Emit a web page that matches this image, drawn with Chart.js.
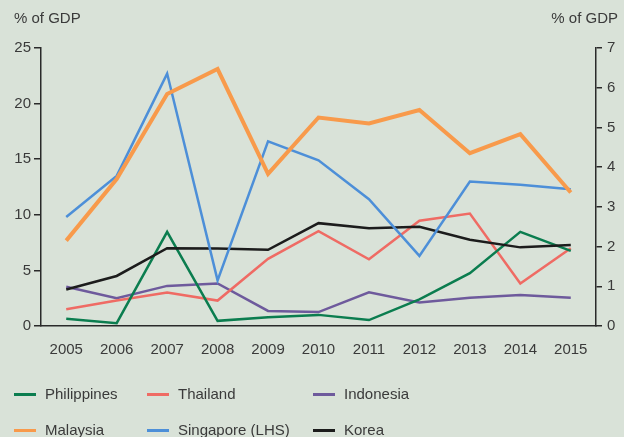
<!DOCTYPE html>
<html>
<head>
<meta charset="utf-8">
<script src="https://cdn.jsdelivr.net/npm/chart.js@4/dist/chart.umd.min.js"></script>
<style>
  html, body { margin: 0; padding: 0; background: #d9e2d8; }
  #wrap { position: relative; width: 624px; height: 437px; overflow: hidden; background: #d9e2d8; font-family: "Liberation Sans", Arial, sans-serif; color: #3a3a3a; }
  canvas { position: absolute; left: 0; top: 0; }
  .atitle { position: absolute; top: 9px; font-size: 15px; line-height: 18px; }
  .leg { position: absolute; font-size: 15px; line-height: 18px; white-space: nowrap; }
  .leg span.m { position: absolute; left: 0; top: 8px; width: 22px; height: 3px; }
  .leg span.t { position: absolute; left: 31px; top: 0; }
</style>
</head>
<body>
<div id="wrap">
  <canvas id="c" width="624" height="437"></canvas>
  <div class="atitle" style="left:14px">% of GDP</div>
  <div class="atitle" style="right:6px">% of GDP</div>
  <div id="legend"></div>
</div>
<script>
const years = ["2005","2006","2007","2008","2009","2010","2011","2012","2013","2014","2015"];
const leftTicks = [0, 5, 10, 15, 20, 25];
const rightTicks = [0, 1, 2, 3, 4, 5, 6, 7];

const philippines = [0.18, 0.07, 2.37, 0.13, 0.22, 0.28, 0.15, 0.67, 1.33, 2.37, 1.89];
const thailand    = [0.42, 0.64, 0.84, 0.64, 1.69, 2.39, 1.68, 2.65, 2.83, 1.07, 1.96];
const indonesia   = [0.99, 0.70, 1.01, 1.07, 0.38, 0.35, 0.85, 0.59, 0.71, 0.78, 0.71];
const malaysia    = [2.15, 3.70, 5.84, 6.47, 3.83, 5.25, 5.10, 5.44, 4.35, 4.83, 3.36];
const singapore   = [9.8, 13.5, 22.7, 4.1, 16.6, 14.9, 11.4, 6.3, 13.0, 12.7, 12.3];
const korea       = [0.92, 1.26, 1.96, 1.95, 1.92, 2.59, 2.46, 2.50, 2.17, 1.98, 2.04];

const series = [
  {label: "Philippines", data: philippines, color: "#0b7d4f", axis: "y1", width: 2.5, order: 3},
  {label: "Thailand", data: thailand, color: "#ef6b64", axis: "y1", width: 2.5, order: 4},
  {label: "Indonesia", data: indonesia, color: "#6e5a9c", axis: "y1", width: 2.5, order: 5},
  {label: "Malaysia", data: malaysia, color: "#f89a4b", axis: "y1", width: 4, order: 0},
  {label: "Singapore (LHS)", data: singapore, color: "#4d8fd8", axis: "y", width: 2.5, order: 1},
  {label: "Korea", data: korea, color: "#1c1c1c", axis: "y1", width: 2.5, order: 2}
];

const legendPos = [
  [14, 385], [147, 385], [313, 385],
  [14, 421], [147, 421], [313, 421]
];
const legEl = document.getElementById("legend");
series.forEach((s, i) => {
  const d = document.createElement("div");
  d.className = "leg";
  d.style.left = legendPos[i][0] + "px";
  d.style.top = legendPos[i][1] + "px";
  d.innerHTML = '<span class="m" style="background:' + s.color + '"></span><span class="t">' + s.label + '</span>';
  legEl.appendChild(d);
});

const axisColor = "#2a2a2a";
const textColor = "#3a3a3a";
const tickFont = {family: "'Liberation Sans', Arial, sans-serif", size: 15};

new Chart(document.getElementById("c"), {
  type: "line",
  data: {
    labels: years,
    datasets: series.map(s => ({
      label: s.label,
      data: s.data,
      yAxisID: s.axis,
      borderColor: s.color,
      backgroundColor: s.color,
      borderWidth: s.width,
      pointRadius: 0,
      tension: 0,
      fill: false,
      order: s.order
    }))
  },
  options: {
    responsive: false,
    animation: false,
    devicePixelRatio: 1,
    layout: {padding: {top: 48, right: 0, left: 0, bottom: 0}},
    plugins: {legend: {display: false}, tooltip: {enabled: false}},
    scales: {
      x: {
        offset: true,
        grid: {display: false},
        border: {display: true, color: axisColor, width: 1.5},
        ticks: {color: textColor, font: tickFont, padding: 7, maxRotation: 0},
        afterFit: s => { s.height = 111; }
      },
      y: {
        position: "left",
        min: 0, max: 25,
        afterBuildTicks: s => { s.ticks = leftTicks.map(v => ({value: v})); },
        grid: {drawOnChartArea: false, drawTicks: true, tickLength: 7, tickColor: axisColor, lineWidth: 1.5},
        border: {display: true, color: axisColor, width: 1.5},
        ticks: {color: textColor, font: tickFont, padding: 3},
        afterFit: s => { s.width = 41; }
      },
      y1: {
        position: "right",
        min: 0, max: 7,
        afterBuildTicks: s => { s.ticks = rightTicks.map(v => ({value: v})); },
        grid: {drawOnChartArea: false, drawTicks: true, tickLength: 6, tickColor: axisColor, lineWidth: 1.5},
        border: {display: true, color: axisColor, width: 1.5},
        ticks: {color: textColor, font: tickFont, padding: 5},
        afterFit: s => { s.width = 28; }
      }
    }
  }
});
</script>
</body>
</html>
